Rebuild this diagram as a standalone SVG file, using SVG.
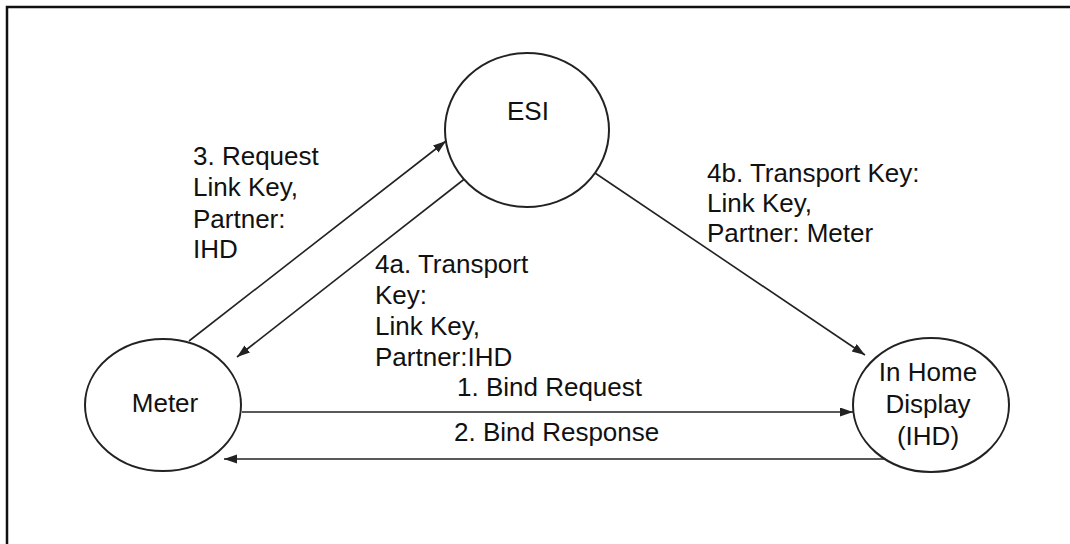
<svg xmlns="http://www.w3.org/2000/svg" width="1070" height="544" viewBox="0 0 1070 544">
<style>
.node{fill:#fff;stroke:#222;stroke-width:2}
.lbl{font-family:"Liberation Sans",Arial,sans-serif;font-size:26px;fill:#111}
.edge{stroke:#222;stroke-width:1.6;fill:none;marker-end:url(#ah)}
</style>
<defs>
<marker id="ah" markerUnits="userSpaceOnUse" markerWidth="14" markerHeight="10" refX="13" refY="4.5" orient="auto">
<path d="M0,0 L13,4.5 L0,9 Z" fill="#222"/>
</marker>
</defs>
<rect width="1070" height="544" fill="#fff"/>
<path d="M7,544 V7 H1070" fill="none" stroke="#111" stroke-width="2.5"/>
<g id="connectors">
<line class="edge" x1="189" y1="341" x2="446" y2="141"/>
<line class="edge" x1="467" y1="177" x2="237" y2="357"/>
<line class="edge" x1="595" y1="173" x2="865" y2="355"/>
<line class="edge" x1="242" y1="412" x2="853" y2="412"/>
<line class="edge" x1="885" y1="459" x2="224" y2="459"/>
</g>
<g id="labels">
<text class="lbl"><tspan x="193" y="165">3. Request</tspan><tspan x="193" y="196">Link Key,</tspan><tspan x="193" y="228">Partner:</tspan><tspan x="193" y="258">IHD</tspan></text>
<text class="lbl"><tspan x="375" y="273">4a. Transport</tspan><tspan x="375" y="304">Key:</tspan><tspan x="375" y="335">Link Key,</tspan><tspan x="375" y="366">Partner:IHD</tspan></text>
<text class="lbl"><tspan x="707" y="182">4b. Transport Key:</tspan><tspan x="707" y="212">Link Key,</tspan><tspan x="707" y="242">Partner: Meter</tspan></text>
<text class="lbl" x="457" y="396">1. Bind Request</text>
<text class="lbl" x="454" y="441">2. Bind Response</text>
</g>
<g id="esi">
<ellipse class="node" cx="527" cy="130" rx="82" ry="77"/>
<text class="lbl" x="528" y="120" text-anchor="middle">ESI</text>
</g>
<g id="meter">
<ellipse class="node" cx="163" cy="405" rx="78" ry="66"/>
<text class="lbl" x="165" y="412" text-anchor="middle">Meter</text>
</g>
<g id="ihd">
<ellipse class="node" cx="931" cy="405" rx="78" ry="67"/>
<text class="lbl" text-anchor="middle"><tspan x="928" y="381">In Home</tspan><tspan x="928" y="413">Display</tspan><tspan x="928" y="445">(IHD)</tspan></text>
</g>
</svg>
